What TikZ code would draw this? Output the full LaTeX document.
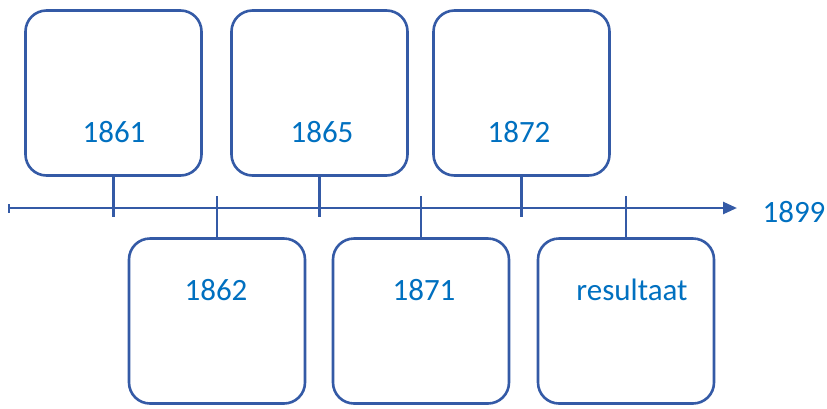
\documentclass[tikz,border=0pt]{standalone}
\usepackage{fontspec}
\setmainfont{Carlito}
\usetikzlibrary{arrows.meta}
\definecolor{linec}{RGB}{52,90,166}
\definecolor{textc}{RGB}{0,112,192}
\begin{document}
\begin{tikzpicture}[x=1pt,y=-1pt,
  box/.style={draw=linec,line width=2.6pt,rounded corners=21pt,minimum width=176pt,minimum height=165pt,inner sep=0pt,fill=white},
  lbl/.style={text=textc,font=\fontsize{31}{36}\selectfont,inner sep=0pt},
  conn/.style={draw=linec,line width=2.6pt}]
\useasboundingbox (0,0) rectangle (827,408);
% boxes
\node[box] (b1) at (113.5,93) {};
\node[box] (b2) at (319.5,93) {};
\node[box] (b3) at (521.5,93) {};
\node[box] (b4) at (217,321) {};
\node[box] (b5) at (421,321) {};
\node[box] (b6) at (626,321) {};
% labels
\node[lbl] (t1) at (114,132) {1861};
\node[lbl] (t2) at (322,132) {1865};
\node[lbl] (t3) at (519,132) {1872};
\node[lbl] (t4) at (216,290) {1862};
\node[lbl] (t5) at (424,290) {1871};
\node[lbl] (t6) at (632,290) {resultaat};
\node[lbl] (t7) at (794,212) {1899};
% axis
\coordinate (axL) at (8,208);
\coordinate (axR) at (737,208);
\draw[conn,{Bar[width=9pt,line width=1.6pt]}-{Triangle[length=14pt,width=12pt]}] (axL) -- (axR);
% ticks
\foreach \b in {b1,b2,b3}{
  \draw[conn] (\b.south) -- ([yshift=-9pt]\b.south |- axL);
}
\foreach \b in {b4,b5,b6}{
  \draw[conn] (\b.north) -- ([yshift=12pt]\b.north |- axL);
}
\end{tikzpicture}
\end{document}
